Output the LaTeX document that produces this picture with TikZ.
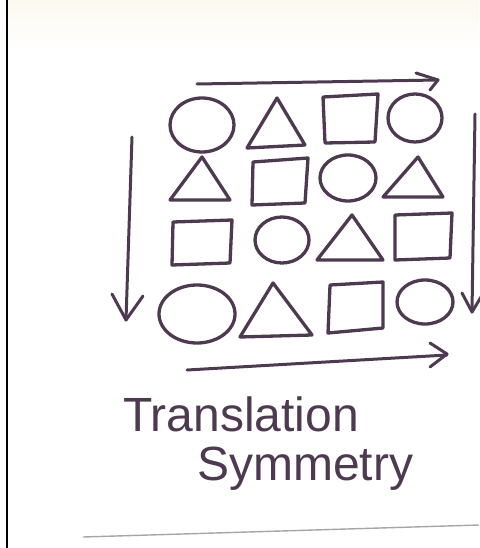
\documentclass[tikz,border=0pt]{standalone}
\usepackage{fontspec}
\setmainfont{Liberation Sans}
\begin{document}
\begin{tikzpicture}[x=1pt,y=-1pt,
  ink/.style={draw=inkc,line width=3.3pt,line join=round,line cap=round},
  arr/.style={draw=inkc,line width=3pt,line join=round,line cap=round},
  hand/.style={text=inkc,font=\fontsize{48}{50}\selectfont,inner sep=0pt,anchor=base west}]
\definecolor{inkc}{RGB}{78,58,80}
\definecolor{cream}{RGB}{252,249,240}
\useasboundingbox (0,0) rectangle (479,548);
\fill[white] (0,0) rectangle (479,548);
\shade[top color=cream,bottom color=white] (8,0) rectangle (479,50);
% left border line and bottom paper line
\draw[black,line width=2pt] (7,0) -- (7,548);
\draw[gray!70,line width=1.4pt] (83,537) -- (479,525);

% top arrow
\draw[arr] (197,84) -- (438,80);
\draw[arr] (416,73) -- (438,80) -- (430,90);
% bottom arrow
\draw[arr] (187,370) -- (447,355);
\draw[arr] (430,343) -- (447,354) -- (430,367);
% left arrow
\draw[arr] (132,137) -- (126,320);
\draw[arr] (112,294) -- (126,320) -- (143,296);
% right arrow
\draw[arr] (475,114) -- (472,312);
\draw[arr] (462,293) -- (472,312) -- (481,297);

% row 1
\draw[ink] (202,125) ellipse [x radius=32,y radius=27];
\draw[ink] (247,148) -- (305,145) -- (277,98) -- cycle;
\draw[ink] (323,97) -- (378,94) -- (375,142) -- (325,143) -- cycle;
\draw[ink] (415,118) ellipse [x radius=27,y radius=24];
% row 2
\draw[ink] (170,200) -- (230,200) -- (202,157) -- cycle;
\draw[ink] (253,162) -- (308,158) -- (305,203) -- (252,205) -- cycle;
\draw[ink] (348,178) ellipse [x radius=28,y radius=23];
\draw[ink] (383,197) -- (443,197) -- (418,157) -- cycle;
% row 3
\draw[ink] (173,222) -- (232,220) -- (230,263) -- (172,265) -- cycle;
\draw[ink] (282,240) ellipse [x radius=27,y radius=23];
\draw[ink] (317,260) -- (383,260) -- (352,215) -- cycle;
\draw[ink] (395,215) -- (452,213) -- (450,258) -- (395,260) -- cycle;
% row 4
\draw[ink] (197,314) ellipse [x radius=38,y radius=29];
\draw[ink] (240,337) -- (312,335) -- (273,283) -- cycle;
\draw[ink] (330,285) -- (383,282) -- (383,328) -- (328,333) -- cycle;
\draw[ink] (425,302) ellipse [x radius=28,y radius=22];

% text
\node[hand] (t1) at (123,431) {Translation};
\node[hand] (t2) at (197,480) {Symmetry};
\end{tikzpicture}
\end{document}
